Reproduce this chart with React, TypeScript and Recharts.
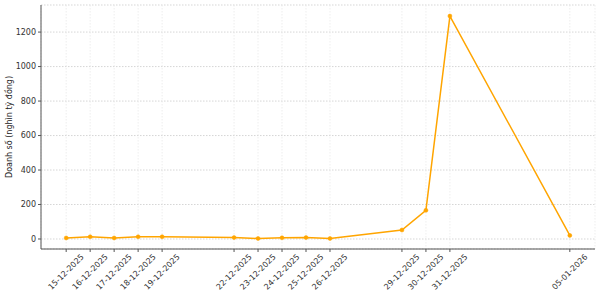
import { LineChart, Line, XAxis, YAxis, CartesianGrid } from 'recharts';

// trading dates (dd-mm-yyyy) and revenue, nghìn tỷ đồng
const dateLabels = [
    '15-12-2025', '16-12-2025', '17-12-2025', '18-12-2025', '19-12-2025',
    '22-12-2025', '23-12-2025', '24-12-2025', '25-12-2025', '26-12-2025',
    '29-12-2025', '30-12-2025', '31-12-2025', '05-01-2026',
];
const revenue = [6, 13, 6, 13, 13, 8, 3, 7, 8, 3, 52, 166, 1293, 21];
const yTicks = [0, 200, 400, 600, 800, 1000, 1200];

const FONT = '"DejaVu Sans", sans-serif';

const toUtc = (s: string) => {
    const [d, m, y] = s.split('-').map(Number);
    return Date.UTC(y, m - 1, d);
};
const base = toUtc(dateLabels[0]);
const dayOffset = (s: string) => (toUtc(s) - base) / 86400000;

const data = dateLabels.map((label, i) => ({ t: dayOffset(label), label, value: revenue[i] }));
const xTicks = data.map(d => d.t);
const labelFor = (t: number) => data.find(d => d.t === t)?.label ?? '';

const span = xTicks[xTicks.length - 1] - xTicks[0];
const xDomain = [xTicks[0] - span * 0.05, xTicks[xTicks.length - 1] + span * 0.05];

const XTick = ({ x, y, payload }: any) => {
    const cy = y + 18;
    return (
        <text
            x={x}
            y={cy}
            textAnchor="middle"
            dominantBaseline="central"
            transform={`rotate(-45 ${x} ${cy})`}
            fontSize={8}
            fontFamily={FONT}
            fill="#333"
        >
            {labelFor(payload.value)}
        </text>
    );
};

const YLabel = () => (
    <text
        x={9}
        y={127}
        textAnchor="middle"
        dominantBaseline="central"
        transform="rotate(-90 9 127)"
        fontSize={8}
        fontFamily={FONT}
        fill="#222"
    >
        Doanh số (nghìn tỷ đồng)
    </text>
);

export default function App() {
    return (
        <div style={{ position: 'absolute', left: 0, top: 0, width: 600, height: 298, background: '#fff' }}>
            <LineChart width={600} height={298} data={data} margin={{ top: 5, right: 5, left: 0, bottom: 0 }}>
                {/* horizontal grid is darker than the vertical one */}
                <CartesianGrid vertical={false} stroke="#c4c4c4" strokeDasharray="1.5 1.5" strokeWidth={0.7} />
                <CartesianGrid horizontal={false} stroke="#e6e6e6" strokeDasharray="1.5 1.5" strokeWidth={0.7} />
                <XAxis
                    dataKey="t"
                    type="number"
                    domain={xDomain}
                    allowDataOverflow
                    ticks={xTicks}
                    interval={0}
                    height={49}
                    tick={<XTick />}
                    tickSize={3}
                    axisLine={{ stroke: '#555', strokeWidth: 1 }}
                    tickLine={{ stroke: '#555' }}
                />
                <YAxis
                    type="number"
                    domain={[-58, 1357]}
                    allowDataOverflow
                    ticks={yTicks}
                    interval={0}
                    width={41}
                    tickSize={3}
                    tickMargin={2}
                    tick={{ fontSize: 8, fontFamily: FONT, fill: '#333' }}
                    axisLine={{ stroke: '#555', strokeWidth: 1 }}
                    tickLine={{ stroke: '#555' }}
                    label={<YLabel />}
                />
                <Line
                    type="linear"
                    dataKey="value"
                    stroke="#FFA500"
                    strokeWidth={1.5}
                    dot={{ r: 2, fill: '#FFA500', stroke: '#FFA500', strokeWidth: 0.5 }}
                    activeDot={false}
                    isAnimationActive={false}
                />
            </LineChart>
        </div>
    );
}
